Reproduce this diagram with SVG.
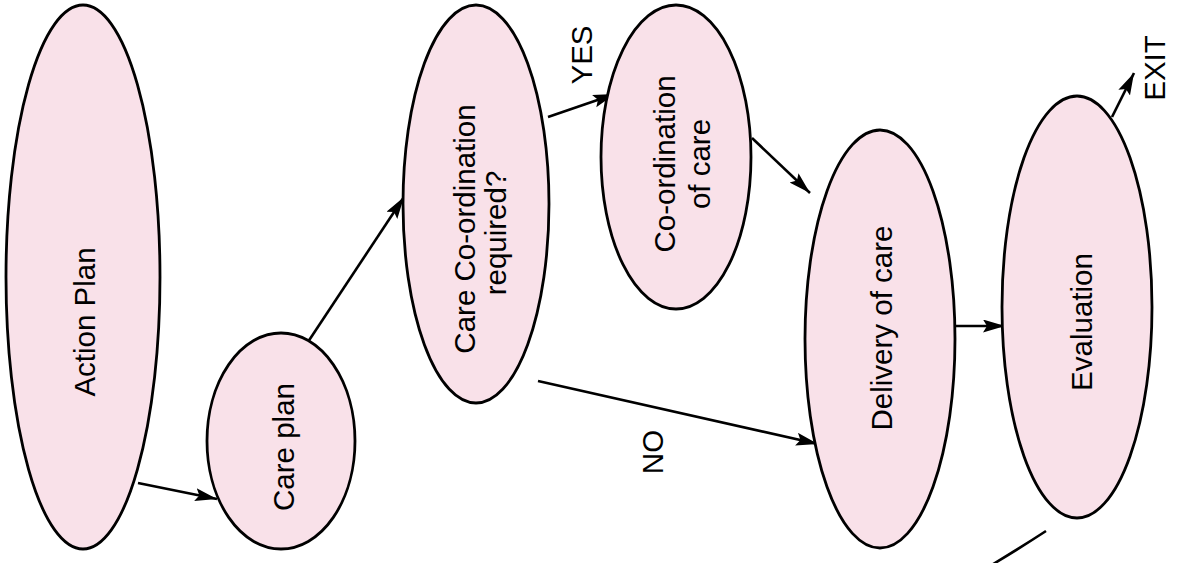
<svg xmlns="http://www.w3.org/2000/svg" width="1178" height="563" viewBox="0 0 1178 563">
<style>
.node ellipse{fill:#f9e1e9;stroke:#000;stroke-width:2.8}
.lbl{font-family:"Liberation Sans",Arial,sans-serif;font-size:29.5px;fill:#000;text-anchor:middle}
.conn{fill:none;stroke:#000;stroke-width:2.6}
</style>
<defs>
<marker id="ah" markerUnits="userSpaceOnUse" markerWidth="24" markerHeight="14" refX="22" refY="6.5" orient="auto">
<path d="M0,0 L22,6.5 L0,13 L4,6.5 z" fill="#000"/>
</marker>
</defs>
<rect width="1178" height="563" fill="#fff"/>
<g id="connectors">
<line class="conn" x1="138" y1="483" x2="217" y2="499" marker-end="url(#ah)"/>
<line class="conn" x1="298" y1="357" x2="404" y2="197" marker-end="url(#ah)"/>
<line class="conn" x1="548" y1="117" x2="615" y2="94" marker-end="url(#ah)"/>
<line class="conn" x1="752" y1="138" x2="810" y2="193" marker-end="url(#ah)"/>
<line class="conn" x1="538" y1="381" x2="818" y2="444" marker-end="url(#ah)"/>
<line class="conn" x1="953" y1="326" x2="1005" y2="326" marker-end="url(#ah)"/>
<line class="conn" x1="1112" y1="117" x2="1134" y2="73" marker-end="url(#ah)"/>
<path class="conn" d="M1046,531 Q1020,548 990,566"/>
<text class="lbl" transform="translate(592,55) rotate(-90)">YES</text>
<text class="lbl" transform="translate(663,452) rotate(-90)">NO</text>
<text class="lbl" transform="translate(1165,68) rotate(-90)">EXIT</text>
</g>
<g id="action-plan" class="node">
<ellipse cx="83" cy="277" rx="77" ry="272"/>
<text class="lbl" transform="translate(95,322) rotate(-90)">Action Plan</text>
</g>
<g id="care-plan" class="node">
<ellipse cx="281" cy="441" rx="74" ry="108"/>
<text class="lbl" transform="translate(294,447) rotate(-90)">Care plan</text>
</g>
<g id="care-coordination-required" class="node">
<ellipse cx="476" cy="204" rx="73" ry="199"/>
<text class="lbl" transform="translate(475,229) rotate(-90)">Care Co-ordination</text>
<text class="lbl" transform="translate(506,233) rotate(-90)">required?</text>
</g>
<g id="coordination-of-care" class="node">
<ellipse cx="676" cy="157" rx="75" ry="152"/>
<text class="lbl" transform="translate(675,164) rotate(-90)">Co-ordination</text>
<text class="lbl" transform="translate(710,164) rotate(-90)">of care</text>
</g>
<g id="delivery-of-care" class="node">
<ellipse cx="880" cy="339" rx="75" ry="209"/>
<text class="lbl" transform="translate(892,328) rotate(-90)">Delivery of care</text>
</g>
<g id="evaluation" class="node">
<ellipse cx="1077" cy="307" rx="75" ry="211"/>
<text class="lbl" transform="translate(1092,322) rotate(-90)">Evaluation</text>
</g>
</svg>
